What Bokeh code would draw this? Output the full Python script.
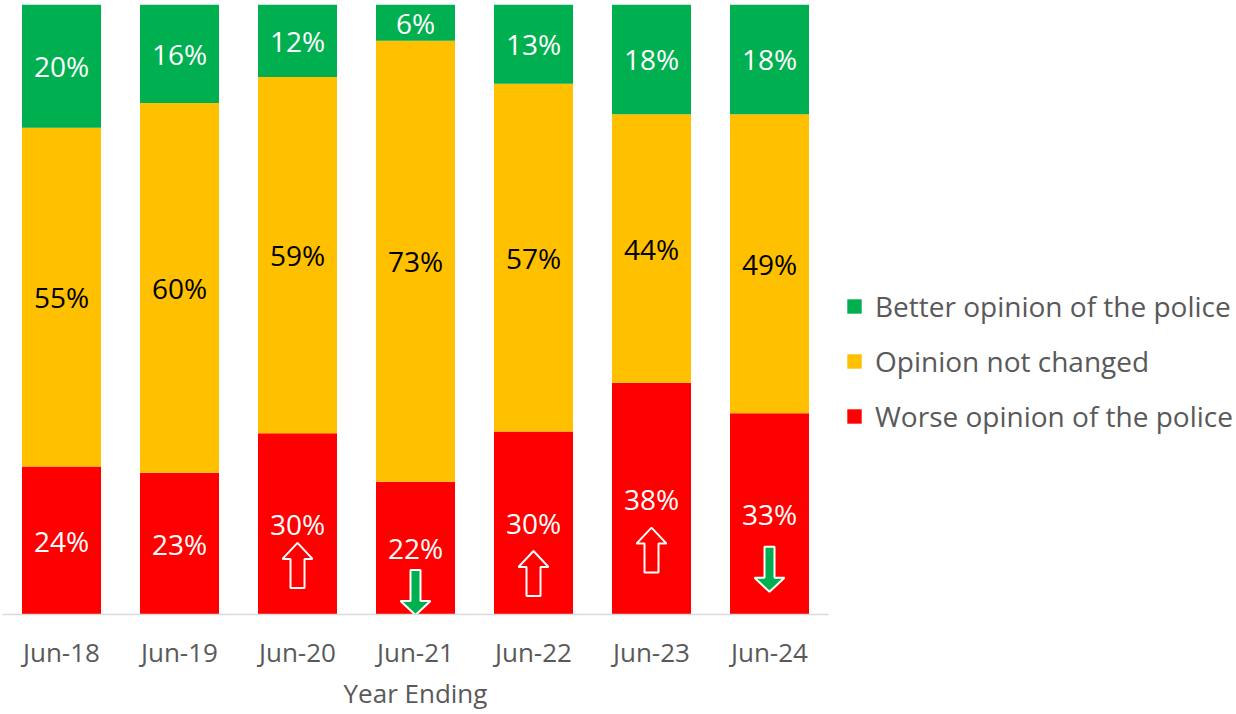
from bokeh.plotting import figure
from bokeh.models import ColumnDataSource, Range1d, FixedTicker, Legend, LegendItem
from bokeh.core.properties import value
from bokeh.embed import file_html
from bokeh.resources import INLINE

categories = ["Jun-18", "Jun-19", "Jun-20", "Jun-21", "Jun-22", "Jun-23", "Jun-24"]
better = [20, 16, 12, 6, 13, 18, 18]
same = [55, 60, 59, 73, 57, 44, 49]
worse = [24, 23, 30, 22, 30, 38, 33]
# significance arrows on the "worse" series
arrows = [None, None, "up", "down", "up", "up", "down"]

GREEN, YELLOW, RED = "#00B050", "#FFC000", "#FF0000"
GREY = "#595959"
FONT = "Open Sans"

FRAME_W, FRAME_H = 826, 610
PX_PER_CAT = 118.0
ARROW_GAP = [0, 0, 19, 22, 28, 29, 33]  # px between label centre and arrow top

xs = list(range(len(categories)))
tot = [b + s + w for b, s, w in zip(better, same, worse)]
w_top = [w / t for w, t in zip(worse, tot)]
s_top = [(w + s) / t for w, s, t in zip(worse, same, tot)]

src = ColumnDataSource(dict(
    x=xs, zero=[0] * len(xs), w_top=w_top, s_top=s_top, one=[1] * len(xs),
))

p = figure(frame_width=FRAME_W, frame_height=FRAME_H,
           x_range=Range1d(-0.5, 6.5), y_range=Range1d(0, 1),
           y_axis_location=None, output_backend="svg", toolbar_location=None,
           min_border_left=2, min_border_top=4, min_border_right=20, min_border_bottom=0)
p.outline_line_color = None
p.xgrid.visible = False
p.ygrid.visible = False
p.background_fill_color = "white"

BW = 79 / PX_PER_CAT
r_w = p.vbar(x="x", width=BW, bottom="zero", top="w_top", source=src, color=RED, line_color=None)
r_s = p.vbar(x="x", width=BW, bottom="w_top", top="s_top", source=src, color=YELLOW, line_color=None)
r_b = p.vbar(x="x", width=BW, bottom="s_top", top="one", source=src, color=GREEN, line_color=None)

# data labels
lab = ColumnDataSource(dict(
    x=xs * 3,
    y=[t / 2 for t in w_top] + [(a + b) / 2 for a, b in zip(w_top, s_top)] + [(b + 1) / 2 for b in s_top],
    t=[f"{v}%" for v in worse] + [f"{v}%" for v in same] + [f"{v}%" for v in better],
    c=["white"] * 7 + ["black"] * 7 + ["white"] * 7,
))
p.text(x="x", y="y", text="t", text_color="c", source=lab, text_font=value(FONT),
       text_font_size="28px", text_align="center", text_baseline="middle")

# arrows
dx = 1 / PX_PER_CAT
dy = 1 / FRAME_H
up_shape = [(0, 0), (15, 16), (7, 16), (7, 45), (-7, 45), (-7, 16), (-15, 16)]
down_shape = [(-5, 0), (5, 0), (5, 31), (15, 31), (0, 45), (-15, 31), (-5, 31)]
for i, a in enumerate(arrows):
    if a is None:
        continue
    ytop = w_top[i] / 2 - ARROW_GAP[i] * dy
    shape = up_shape if a == "up" else down_shape
    px = [xs[i] + sx * dx for sx, sy in shape]
    py = [ytop - sy * dy for sx, sy in shape]
    p.patch(px, py, fill_color=RED if a == "up" else GREEN, line_color="white", line_width=2)

# axis
ax = p.xaxis[0]
ax.ticker = FixedTicker(ticks=xs)
ax.major_label_overrides = {i: c for i, c in enumerate(categories)}
ax.major_tick_line_color = None
ax.minor_tick_line_color = None
ax.axis_line_color = "#D9D9D9"
ax.axis_line_width = 1.5
ax.major_label_text_font = FONT
ax.major_label_text_font_size = "26px"
ax.major_label_text_color = GREY
ax.major_label_standoff = 13
ax.axis_label = "Year Ending"
ax.axis_label_text_font = FONT
ax.axis_label_text_font_size = "26px"
ax.axis_label_text_font_style = "normal"
ax.axis_label_text_color = GREY
ax.axis_label_standoff = 2

legend = Legend(items=[
    LegendItem(label="Better opinion of the police", renderers=[r_b]),
    LegendItem(label="Opinion not changed", renderers=[r_s]),
    LegendItem(label="Worse opinion of the police", renderers=[r_w]),
], location=(17, 179))
legend.glyph_width = 18
legend.glyph_height = 18
legend.label_height = 18
legend.spacing = 17
legend.padding = 0
legend.margin = 0
legend.border_line_color = None
legend.background_fill_alpha = 0
legend.label_text_font = FONT
legend.label_text_font_size = "28px"
legend.label_text_color = GREY
legend.label_standoff = 12
p.add_layout(legend, "right")

open("out.html", "w").write(file_html(p, INLINE))
